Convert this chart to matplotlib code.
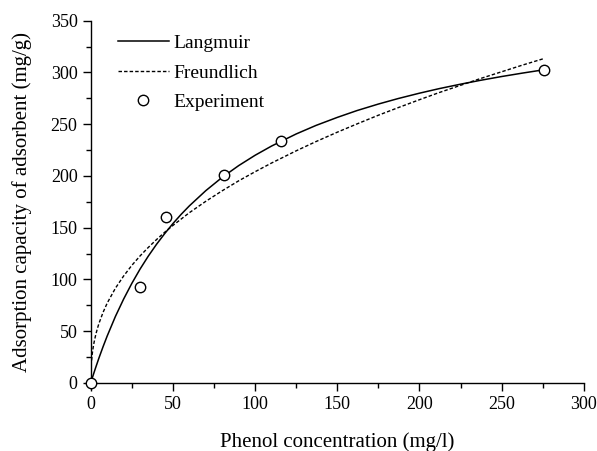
import matplotlib.pyplot as plt
from matplotlib.ticker import MultipleLocator

plt.rcParams['font.family'] = ['Liberation Serif', 'DejaVu Serif']

# experimental adsorption data
c_exp = [0, 30, 46, 81, 116, 276]
q_exp = [0, 93, 160, 201, 234, 302]

# Langmuir fit curve
c_lang = [0, 1, 2, 3, 5, 7.5, 10, 15, 20, 25, 30, 35, 40, 45, 50, 55, 60, 70, 80, 90,
          100, 110, 125, 137, 150, 162, 175, 187, 200, 212, 225, 237, 250, 263, 276]
q_lang = [0, 5.1, 10.0, 14.8, 24.1, 35.0, 45.3, 64.2, 81.0, 96.2, 110.0, 122.5, 133.9,
          144.3, 154.0, 162.9, 171.1, 185.8, 198.7, 210.0, 220.0, 228.9, 240.6, 248.8,
          256.6, 263.2, 269.5, 274.8, 280.0, 284.4, 288.7, 292.4, 296.1, 299.5, 302.7]

# Freundlich fit curve
c_freu = [0.5, 1, 1.5, 2, 3, 4, 5, 7.5, 10, 15, 20, 25, 30, 35, 40, 45, 50, 60, 70, 80,
          90, 100, 110, 125, 137, 150, 162, 175, 187, 200, 212, 225, 237, 250, 263, 276]
q_freu = [21.7, 29.1, 34.5, 39.0, 46.3, 52.3, 57.5, 68.2, 77.1, 91.5, 103.3, 113.6,
          122.7, 130.9, 138.5, 145.6, 152.2, 164.5, 175.5, 185.7, 195.3, 204.1, 212.5,
          224.3, 233.2, 242.3, 250.3, 258.7, 266.0, 273.7, 280.6, 287.6, 294.1, 300.7,
          307.3, 313.6]

fig = plt.figure(figsize=(5.97, 4.51), dpi=100)
ax = fig.add_axes([0.152, 0.151, 0.826, 0.803])

ax.plot(c_lang, q_lang, color='black', lw=1.1, label='Langmuir')
ax.plot(c_freu, q_freu, color='black', lw=1.0, ls=(0, (2.5, 1.5)), label='Freundlich')
ax.plot(c_exp, q_exp, 'o', mfc='white', mec='black', ms=7.5, mew=1.0, ls='none',
        label='Experiment', clip_on=False, zorder=5)

ax.set_xlim(0, 300)
ax.set_ylim(0, 350)
ax.xaxis.set_major_locator(MultipleLocator(50))
ax.xaxis.set_minor_locator(MultipleLocator(25))
ax.yaxis.set_major_locator(MultipleLocator(50))
ax.yaxis.set_minor_locator(MultipleLocator(25))
ax.tick_params(which='both', direction='out', labelsize=13, width=1.0)
ax.tick_params(which='major', length=6)
ax.tick_params(which='minor', length=3.5)

for side in ['top', 'right']:
    ax.spines[side].set_visible(False)
for side in ['left', 'bottom']:
    ax.spines[side].set_linewidth(1.0)

ax.set_xlabel('Phenol concentration (mg/l)', fontsize=15, labelpad=14)
ax.set_ylabel('Adsorption capacity of adsorbent (mg/g)', fontsize=15, labelpad=13)

ax.legend(loc='upper left', bbox_to_anchor=(0.02, 1.01), frameon=False, fontsize=14,
          handlelength=2.6, handletextpad=0.25, labelspacing=0.6)

fig.savefig('out.png', dpi=100)
